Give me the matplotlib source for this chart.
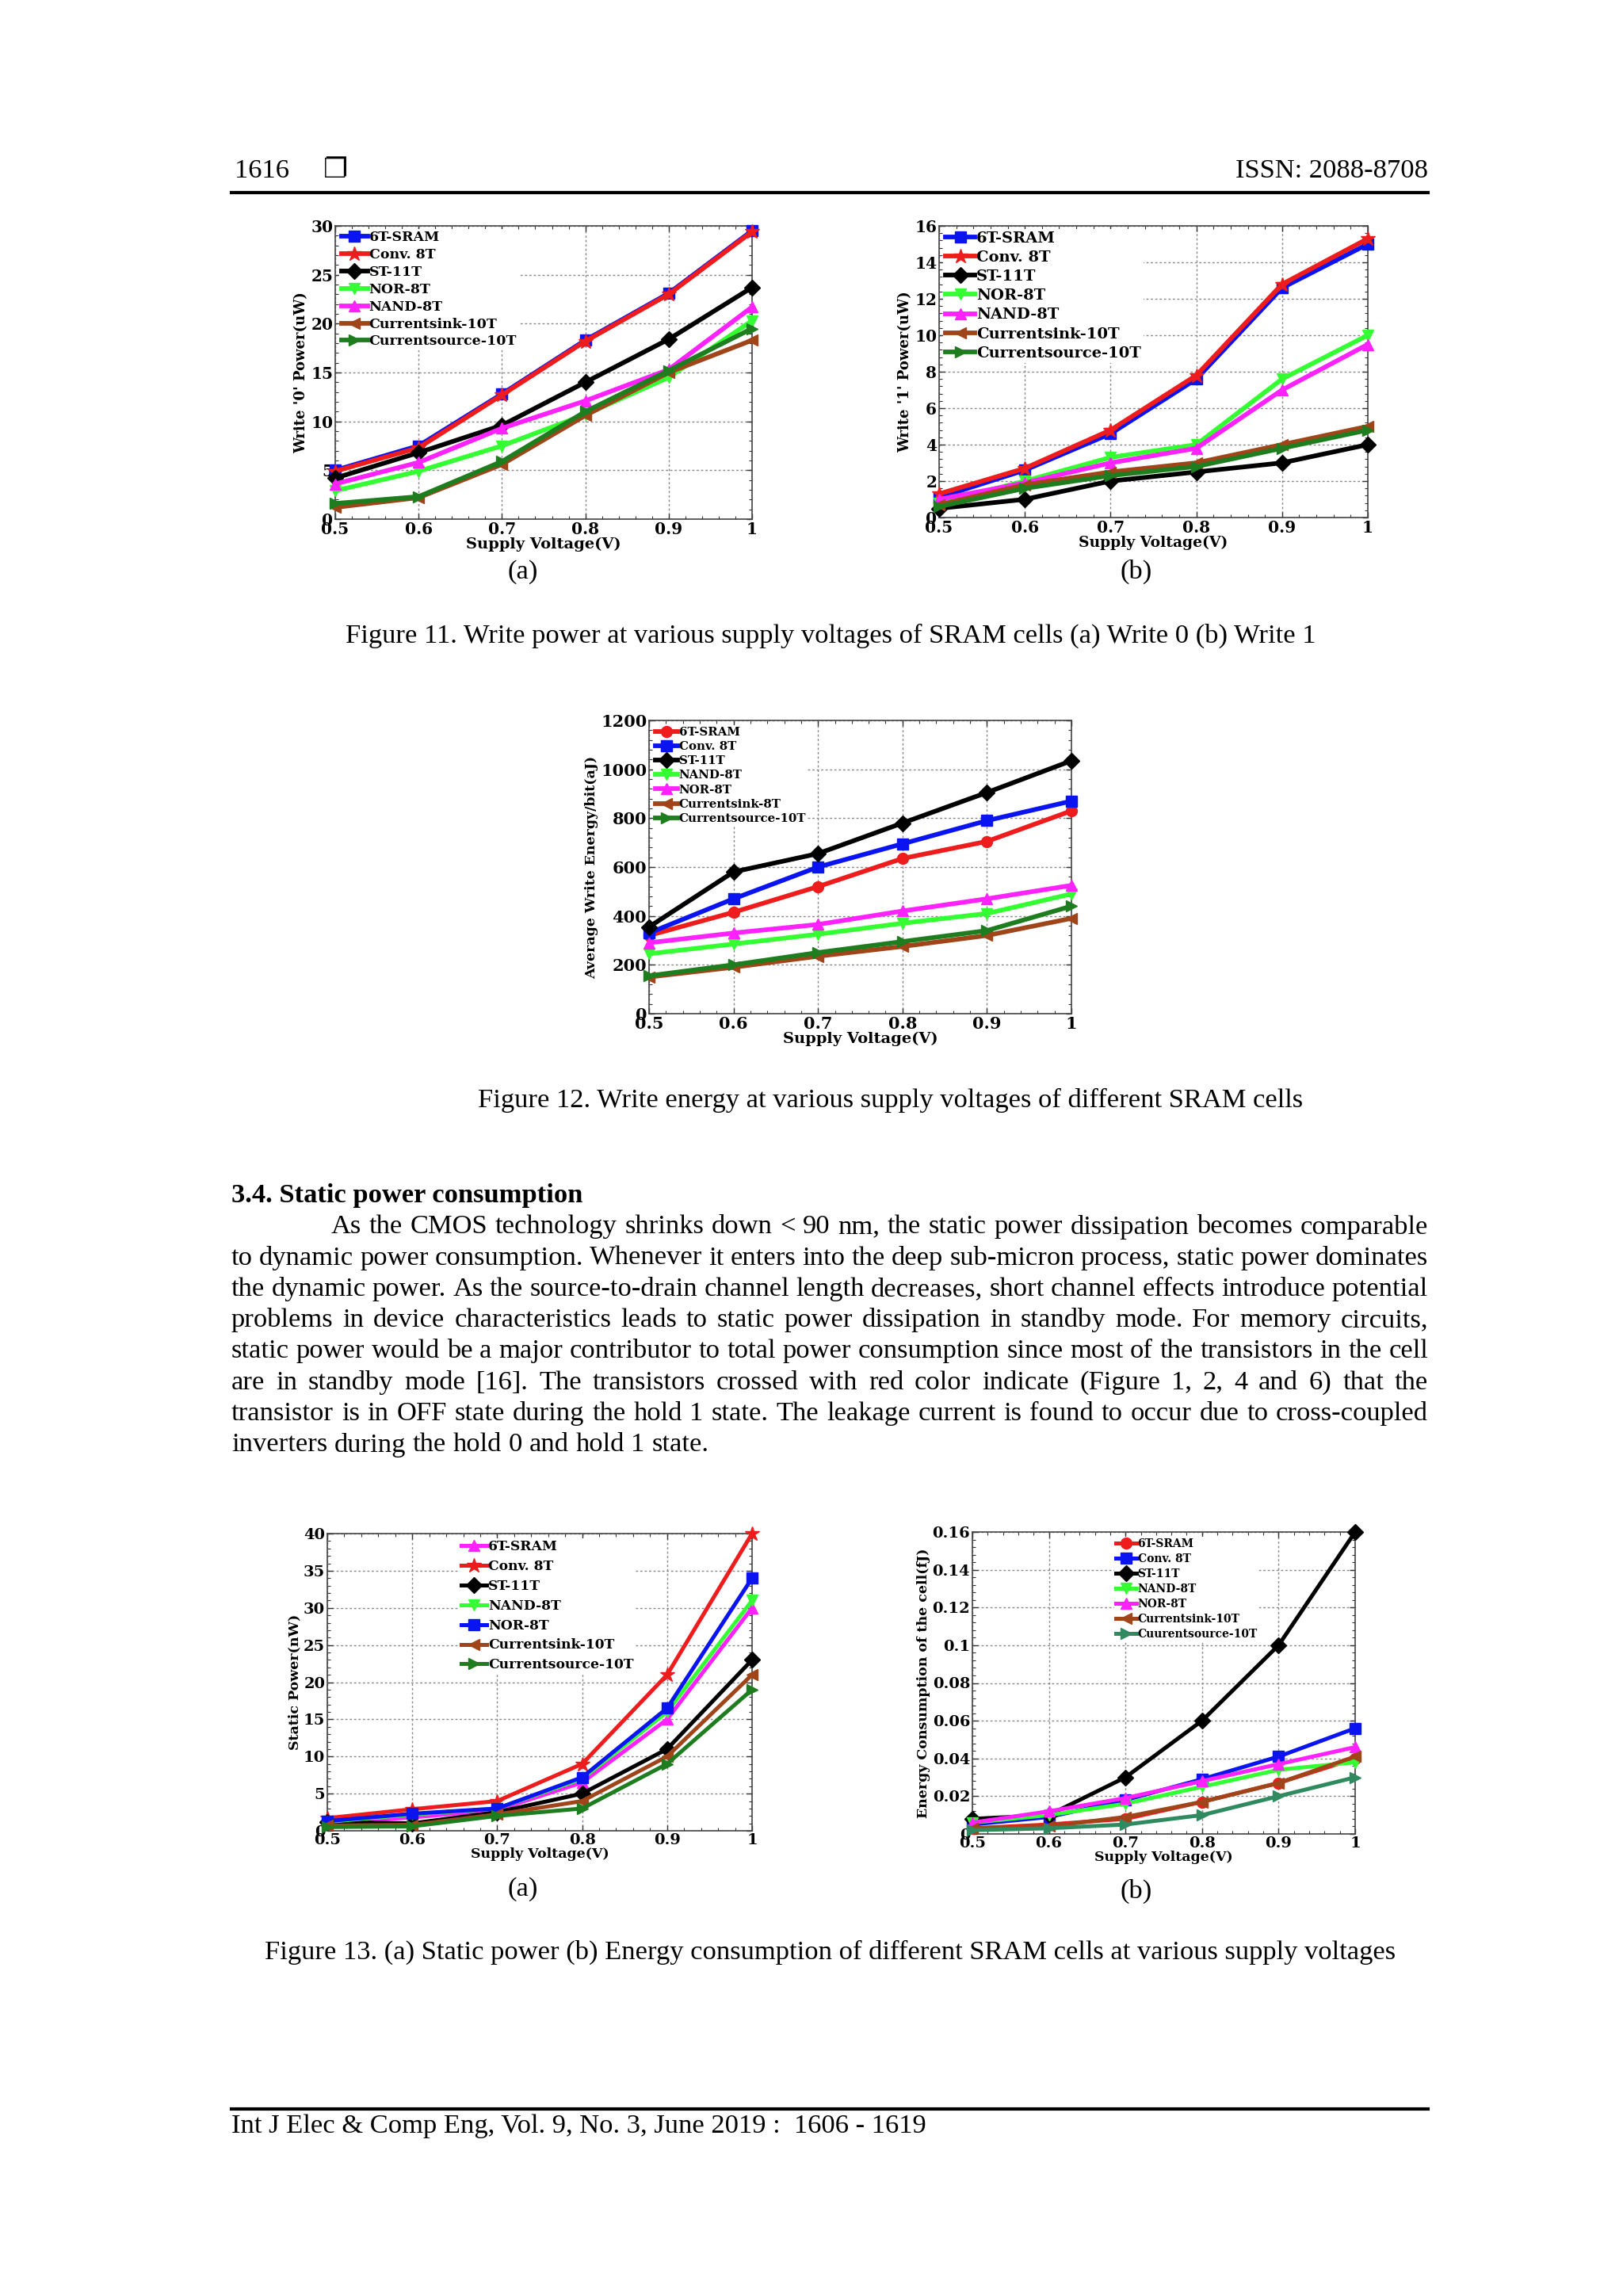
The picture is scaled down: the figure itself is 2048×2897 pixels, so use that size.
import matplotlib
matplotlib.use("Agg")
import matplotlib.pyplot as plt
from matplotlib.ticker import AutoMinorLocator, FixedLocator, FixedFormatter

W, H = 2048, 2897
SERIF = "Liberation Serif"
CSERIF = "DejaVu Serif"

# ---------------- data ----------------
volts = [0.5, 0.6, 0.7, 0.8, 0.9, 1.0]
xtick_labels = ["0.5", "0.6", "0.7", "0.8", "0.9", "1"]

# Figure 11(a) Write '0' power (uW)
w0_labels = ["6T-SRAM", "Conv. 8T", "ST-11T", "NOR-8T", "NAND-8T", "Currentsink-10T", "Currentsource-10T"]
w0_6t = [5.0, 7.5, 12.8, 18.3, 23.1, 29.5]
w0_conv8t = [4.9, 7.3, 12.7, 18.2, 23.0, 29.4]
w0_st11t = [4.2, 6.8, 9.6, 14.0, 18.4, 23.7]
w0_nor8t = [2.9, 4.9, 7.5, 10.7, 14.5, 20.3]
w0_nand8t = [3.6, 5.8, 9.3, 12.1, 15.3, 21.7]
w0_sink10t = [1.2, 2.2, 5.6, 10.6, 15.0, 18.3]
w0_source10t = [1.6, 2.3, 5.9, 11.0, 15.2, 19.5]
w0_yticks = [0, 5, 10, 15, 20, 25, 30]

# Figure 11(b) Write '1' power (uW)
w1_labels = ["6T-SRAM", "Conv. 8T", "ST-11T", "NOR-8T", "NAND-8T", "Currentsink-10T", "Currentsource-10T"]
w1_6t = [1.1, 2.6, 4.6, 7.6, 12.6, 15.0]
w1_conv8t = [1.3, 2.7, 4.8, 7.8, 12.8, 15.3]
w1_st11t = [0.5, 1.0, 2.0, 2.5, 3.0, 4.0]
w1_nor8t = [0.8, 2.0, 3.3, 4.0, 7.6, 10.0]
w1_nand8t = [1.0, 1.9, 3.0, 3.8, 7.0, 9.5]
w1_sink10t = [0.7, 1.8, 2.5, 3.0, 4.0, 5.0]
w1_source10t = [0.6, 1.6, 2.3, 2.8, 3.8, 4.8]
w1_yticks = [0, 2, 4, 6, 8, 10, 12, 14, 16]

# Figure 12 Average write energy/bit (aJ)
we_labels = ["6T-SRAM", "Conv. 8T", "ST-11T", "NAND-8T", "NOR-8T", "Currentsink-8T", "Currentsource-10T"]
we_6t = [320, 415, 520, 635, 705, 830]
we_conv8t = [330, 470, 600, 695, 790, 870]
we_st11t = [355, 580, 655, 780, 905, 1035]
we_nand8t = [245, 285, 325, 370, 410, 490]
we_nor8t = [290, 330, 365, 420, 470, 525]
we_sink8t = [150, 190, 235, 275, 320, 390]
we_source10t = [155, 200, 250, 295, 340, 440]
we_yticks = [0, 200, 400, 600, 800, 1000, 1200]

# Figure 13(a) Static power (nW)
sp_labels = ["6T-SRAM", "Conv. 8T", "ST-11T", "NAND-8T", "NOR-8T", "Currentsink-10T", "Currentsource-10T"]
sp_6t = [1.0, 1.8, 2.8, 6.5, 15.0, 30.0]
sp_conv8t = [1.7, 2.9, 4.0, 9.0, 21.0, 40.0]
sp_st11t = [1.2, 1.0, 2.5, 5.0, 11.0, 23.0]
sp_nand8t = [1.2, 2.2, 3.0, 7.0, 16.0, 31.0]
sp_nor8t = [1.3, 2.3, 3.0, 7.2, 16.5, 34.0]
sp_sink10t = [0.7, 0.8, 2.2, 4.0, 10.0, 21.0]
sp_source10t = [0.5, 0.6, 2.0, 3.0, 9.0, 19.0]
sp_yticks = [0, 5, 10, 15, 20, 25, 30, 35, 40]

# Figure 13(b) Energy consumption of the cell (fJ)
ec_labels = ["6T-SRAM", "Conv. 8T", "ST-11T", "NAND-8T", "NOR-8T", "Currentsink-10T", "Cuurentsource-10T"]
ec_6t = [0.003, 0.005, 0.008, 0.017, 0.027, 0.040]
ec_conv8t = [0.005, 0.009, 0.018, 0.029, 0.041, 0.056]
ec_st11t = [0.008, 0.010, 0.030, 0.060, 0.100, 0.160]
ec_nand8t = [0.006, 0.010, 0.016, 0.025, 0.034, 0.038]
ec_nor8t = [0.006, 0.012, 0.019, 0.028, 0.037, 0.046]
ec_sink10t = [0.003, 0.004, 0.009, 0.017, 0.027, 0.041]
ec_source10t = [0.002, 0.003, 0.005, 0.010, 0.020, 0.030]
ec_yticks = [0, 0.02, 0.04, 0.06, 0.08, 0.10, 0.12, 0.14, 0.16]
ec_ytick_labels = ["0", "0.02", "0.04", "0.06", "0.08", "0.1", "0.12", "0.14", "0.16"]

# ---------------- page text ----------------
header_left = "1616"
header_right = "ISSN: 2088-8708"
cap11 = "Figure 11. Write power at various supply voltages of SRAM cells (a) Write 0 (b) Write 1"
cap12 = "Figure 12. Write energy at various supply voltages of different SRAM cells"
cap13 = "Figure 13. (a) Static power (b) Energy consumption of different SRAM cells at various supply voltages"
heading = "3.4. Static power consumption"
para_lines = [
    "As the CMOS technology shrinks down < 90 nm, the static power dissipation becomes comparable",
    "to dynamic power consumption. Whenever it enters into the deep sub-micron process, static power dominates",
    "the dynamic power. As the source-to-drain channel length decreases, short channel effects introduce potential",
    "problems in device characteristics leads to static power dissipation in standby mode. For memory circuits,",
    "static power would be a major contributor to total power consumption since most of the transistors in the cell",
    "are in standby mode [16]. The transistors crossed with red color indicate (Figure 1, 2, 4 and 6) that the",
    "transistor is in OFF state during the hold 1 state. The leakage current is found to occur due to cross-coupled",
    "inverters during the hold 0 and hold 1 state.",
]
footer = "Int J Elec & Comp Eng, Vol. 9, No. 3, June 2019 :  1606 - 1619"

# ---------------- styles ----------------
C_BLUE = "#0a14f0"
C_RED = "#ee1c1c"
C_BLACK = "#000000"
C_LIME = "#33ff33"
C_MAG = "#ff22ff"
C_BROWN = "#a0451a"
C_DGREEN = "#1e7d1e"
C_SEA = "#2f8a5f"

fig = plt.figure(figsize=(W / 100, H / 100), dpi=100)
fig.patch.set_facecolor("white")


def fx(x):
    return x / W


def fy(y):
    return 1 - y / H


def make_ax(l, t, r, b):
    return fig.add_axes([l / W, 1 - b / H, (r - l) / W, (b - t) / H])


def style_ax(ax, yticks, ylabel, ytl=None, tfs=14.5, lfs=13.5, yfs=13):
    ax.set_xlim(0.5, 1.0)
    ax.set_ylim(yticks[0], yticks[-1])
    ax.xaxis.set_major_locator(FixedLocator(volts))
    ax.xaxis.set_major_formatter(FixedFormatter(xtick_labels))
    ax.yaxis.set_major_locator(FixedLocator(yticks))
    if ytl is None:
        ytl = [f"{v:g}" for v in yticks]
    ax.yaxis.set_major_formatter(FixedFormatter(ytl))
    ax.xaxis.set_minor_locator(AutoMinorLocator(5))
    ax.yaxis.set_minor_locator(AutoMinorLocator(5))
    ax.tick_params(which="both", direction="in", top=True, right=True,
                   labelsize=tfs, pad=2, colors="#333333", labelcolor="black")
    ax.tick_params(which="major", length=5, width=1)
    ax.tick_params(which="minor", length=3, width=0.8)
    for lab in ax.get_xticklabels() + ax.get_yticklabels():
        lab.set_fontfamily(CSERIF)
        lab.set_fontweight("bold")
    ax.grid(True, which="major", linestyle=(0, (2, 2)), color="#888888", linewidth=1.0)
    ax.set_axisbelow(True)
    for s in ax.spines.values():
        s.set_color("#444444")
        s.set_linewidth(1.2)
    ax.set_xlabel("Supply Voltage(V)", fontsize=lfs, fontweight="bold", family=CSERIF, labelpad=0)
    ax.set_ylabel(ylabel, fontsize=yfs, fontweight="bold", family=CSERIF, labelpad=2)


def plot_series(ax, series, labels, colors, markers, lw=4.2, ms=10):
    for ys, lab, c, m in zip(series, labels, colors, markers):
        size = ms * 1.35 if m == "*" else ms
        ax.plot(volts, ys, color=c, marker=m, markersize=size, markerfacecolor=c,
                markeredgecolor=c, linewidth=lw, label=lab, clip_on=False, zorder=3)


def add_legend(ax, anchor, fs, spacing, hl=1.9):
    leg = ax.legend(loc="upper left", bbox_to_anchor=anchor, frameon=True,
                    facecolor="white", edgecolor="none", framealpha=1.0,
                    borderpad=0.15, borderaxespad=0.0, handlelength=hl,
                    handletextpad=0.1, labelspacing=spacing,
                    prop={"family": CSERIF, "weight": "bold", "size": fs})
    leg.set_zorder(5)
    return leg


# ----- Figure 11(a)
ax = make_ax(423, 285, 949, 655)
plot_series(ax, [w0_6t, w0_conv8t, w0_st11t, w0_nor8t, w0_nand8t, w0_sink10t, w0_source10t],
            w0_labels, [C_BLUE, C_RED, C_BLACK, C_LIME, C_MAG, C_BROWN, C_DGREEN],
            ["s", "*", "D", "v", "^", "<", ">"])
style_ax(ax, w0_yticks, "Write '0' Power(uW)", lfs=14, yfs=13)
add_legend(ax, (0.01, 0.99), 12.5, 0.28)

# ----- Figure 11(b)
ax = make_ax(1185, 285, 1726, 653)
plot_series(ax, [w1_6t, w1_conv8t, w1_st11t, w1_nor8t, w1_nand8t, w1_sink10t, w1_source10t],
            w1_labels, [C_BLUE, C_RED, C_BLACK, C_LIME, C_MAG, C_BROWN, C_DGREEN],
            ["s", "*", "D", "v", "^", "<", ">"])
style_ax(ax, w1_yticks, "Write '1' Power(uW)", lfs=13.5, yfs=13)
add_legend(ax, (0.01, 0.99), 14, 0.32)

# ----- Figure 12
ax = make_ax(819, 909, 1352, 1279)
plot_series(ax, [we_6t, we_conv8t, we_st11t, we_nand8t, we_nor8t, we_sink8t, we_source10t],
            we_labels, [C_RED, C_BLUE, C_BLACK, C_LIME, C_MAG, C_BROWN, C_DGREEN],
            ["o", "s", "D", "v", "^", "<", ">"])
style_ax(ax, we_yticks, "Average Write Energy/bit(aJ)", lfs=14, yfs=12.5, tfs=15)
add_legend(ax, (0.01, 0.985), 10.8, 0.28)

# ----- Figure 13(a)
ax = make_ax(413, 1935, 949, 2310)
plot_series(ax, [sp_6t, sp_conv8t, sp_st11t, sp_nand8t, sp_nor8t, sp_sink10t, sp_source10t],
            sp_labels, [C_MAG, C_RED, C_BLACK, C_LIME, C_BLUE, C_BROWN, C_DGREEN],
            ["^", "*", "D", "v", "s", "<", ">"], lw=3.6)
style_ax(ax, sp_yticks, "Static Power(nW)", lfs=12.5, yfs=12.5, tfs=14)
add_legend(ax, (0.31, 0.985), 12.3, 0.46)

# ----- Figure 13(b)
ax = make_ax(1227, 1933, 1710, 2314)
plot_series(ax, [ec_6t, ec_conv8t, ec_st11t, ec_nand8t, ec_nor8t, ec_sink10t, ec_source10t],
            ec_labels, [C_RED, C_BLUE, C_BLACK, C_LIME, C_MAG, C_BROWN, C_SEA],
            ["o", "s", "D", "v", "^", "<", ">"], lw=3.6)
style_ax(ax, ec_yticks, "Energy Consumption of the cell(fJ)", ec_ytick_labels,
         lfs=12.5, yfs=12.5, tfs=14)
add_legend(ax, (0.37, 0.985), 10, 0.36)

# ---------------- page text ----------------
FS = 24.8
fig.text(fx(296), fy(216), header_left, fontsize=FS, family=SERIF, va="center", ha="left")
fig.text(fx(423), fy(214), "\u2750", fontsize=FS, family="DejaVu Sans", fontweight="bold",
         va="center", ha="center")
fig.text(fx(1802), fy(216), header_right, fontsize=FS, family=SERIF, va="center", ha="right")
fig.add_artist(plt.Line2D([fx(292), fx(1802)], [fy(243), fy(243)], color="black", linewidth=3))

fig.text(fx(660), fy(722), "(a)", fontsize=FS, family=SERIF, va="center", ha="center")
fig.text(fx(1434), fy(721), "(b)", fontsize=FS, family=SERIF, va="center", ha="center")
fig.text(fx(1048), fy(802), cap11, fontsize=FS, family=SERIF, va="center", ha="center")
fig.text(fx(1124), fy(1388), cap12, fontsize=FS, family=SERIF, va="center", ha="center")
fig.text(fx(292), fy(1508), heading, fontsize=FS, family=SERIF, fontweight="bold", va="center", ha="left")

renderer = fig.canvas.get_renderer()
x_right = 1802
line_y0 = 1548
line_dy = 39.3
helpers = []
for i, line in enumerate(para_lines):
    words = line.split(" ")
    x0 = 418 if i == 0 else 292
    y = line_y0 + i * line_dy
    texts = [fig.text(fx(x0), fy(y), w_, fontsize=FS, family=SERIF, va="center", ha="left") for w_ in words]
    widths = [t.get_window_extent(renderer).width for t in texts]
    if i == len(para_lines) - 1:
        a1 = fig.text(0, 0, "a a", fontsize=FS, family=SERIF)
        a2 = fig.text(0, 0, "aa", fontsize=FS, family=SERIF)
        gap = a1.get_window_extent(renderer).width - a2.get_window_extent(renderer).width
        helpers += [a1, a2]
    else:
        gap = (x_right - x0 - sum(widths)) / (len(words) - 1)
    x = x0
    for t, wdt in zip(texts, widths):
        t.set_position((fx(x), fy(y)))
        x += wdt + gap
for t in helpers:
    t.remove()

fig.text(fx(660), fy(2384), "(a)", fontsize=FS, family=SERIF, va="center", ha="center")
fig.text(fx(1434), fy(2386), "(b)", fontsize=FS, family=SERIF, va="center", ha="center")
fig.text(fx(1048), fy(2463), cap13, fontsize=FS, family=SERIF, va="center", ha="center")

fig.add_artist(plt.Line2D([fx(292), fx(1802)], [fy(2661), fy(2661)], color="black", linewidth=3))
fig.text(fx(292), fy(2683), footer, fontsize=FS, family=SERIF, va="center", ha="left")

fig.savefig("out.png", dpi=100, facecolor="white")
